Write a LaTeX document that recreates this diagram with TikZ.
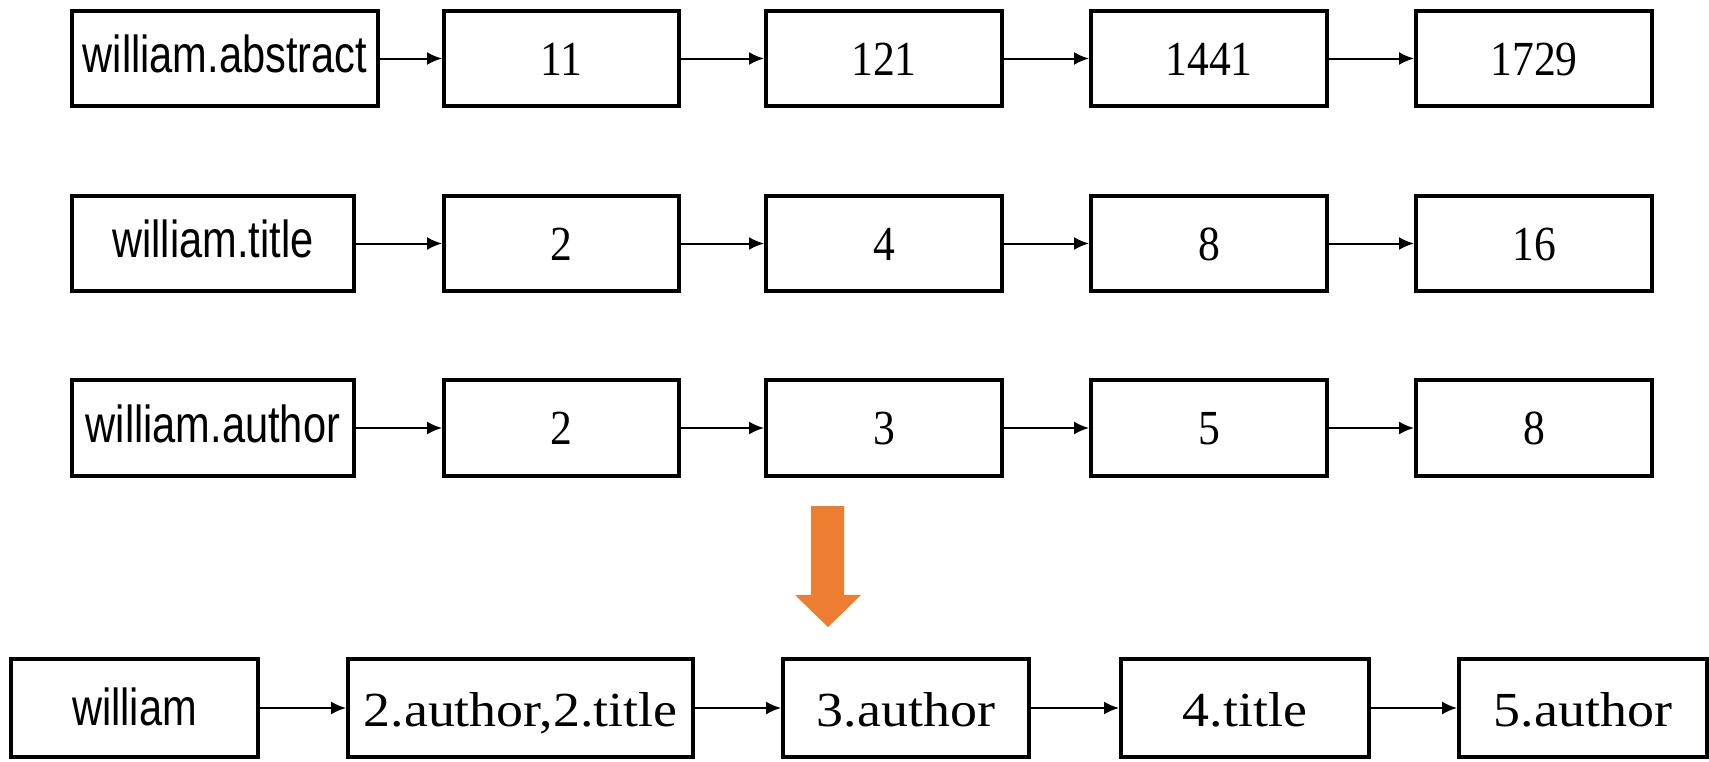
\documentclass[tikz,border=0pt]{standalone}
\usepackage{fontspec}
\usepackage{graphicx}
\newfontfamily\labelsans{Liberation Sans}
\newfontfamily\labelserif{Liberation Serif}
\usetikzlibrary{arrows.meta}
\definecolor{flowOrange}{HTML}{ED7D31}
\newcommand{\keytext}[1]{{\labelsans\fontsize{52}{60}\selectfont\scalebox{0.8}[1]{#1}}}
\newcommand{\numtext}[1]{{\labelserif\fontsize{49}{58}\selectfont\scalebox{0.89}[1]{#1}}}
\newcommand{\postext}[1]{{\labelserif\fontsize{49}{58}\selectfont\scalebox{1.1}[1]{#1}}}
\begin{document}
\begin{tikzpicture}[x=1pt,y=-1pt,
  cell/.style={draw=black, line width=4pt, rectangle, inner sep=0pt, fill=white},
  keycell/.style={cell, text height=37pt, text depth=9pt},
  numcell/.style={cell, text height=33pt, text depth=0pt},
  poscell/.style={cell, text height=36pt, text depth=0pt},
  link/.style={-{Latex[length=15pt,width=13pt]}, line width=2pt}]
\useasboundingbox (0,0) rectangle (1709,761);
\fill[white] (0,0) rectangle (1709,761);

% row 1: abstract postings
\node[keycell, minimum width=306pt, minimum height=95pt] (a0) at (225,58.5) {\keytext{william.abstract}};
\node[numcell, minimum width=235pt, minimum height=95pt] (a1) at (561.5,58.5) {\numtext{11}};
\node[numcell, minimum width=236pt, minimum height=95pt] (a2) at (884,58.5) {\numtext{121}};
\node[numcell, minimum width=236pt, minimum height=95pt] (a3) at (1209,58.5) {\numtext{1441}};
\node[numcell, minimum width=236pt, minimum height=95pt] (a4) at (1534,58.5) {\numtext{1729}};

% row 2: title postings
\node[keycell, minimum width=282pt, minimum height=95pt] (t0) at (213,243.5) {\keytext{william.title}};
\node[numcell, minimum width=235pt, minimum height=95pt] (t1) at (561.5,243.5) {\numtext{2}};
\node[numcell, minimum width=236pt, minimum height=95pt] (t2) at (884,243.5) {\numtext{4}};
\node[numcell, minimum width=236pt, minimum height=95pt] (t3) at (1209,243.5) {\numtext{8}};
\node[numcell, minimum width=236pt, minimum height=95pt] (t4) at (1534,243.5) {\numtext{16}};

% row 3: author postings
\node[keycell, minimum width=282pt, minimum height=96pt] (u0) at (213,428) {\keytext{william.author}};
\node[numcell, minimum width=235pt, minimum height=96pt] (u1) at (561.5,428) {\numtext{2}};
\node[numcell, minimum width=236pt, minimum height=96pt] (u2) at (884,428) {\numtext{3}};
\node[numcell, minimum width=236pt, minimum height=96pt] (u3) at (1209,428) {\numtext{5}};
\node[numcell, minimum width=236pt, minimum height=96pt] (u4) at (1534,428) {\numtext{8}};

\foreach \r in {a,t,u}{
  \draw[link] (\r0.east) -- (\r1.west);
  \draw[link] (\r1.east) -- (\r2.west);
  \draw[link] (\r2.east) -- (\r3.west);
  \draw[link] (\r3.east) -- (\r4.west);
}

% merge arrow
\fill[flowOrange] (811,506) -- (844,506) -- (844,595) -- (861,595) -- (828,627) -- (795,595) -- (811,595) -- cycle;

% row 4: merged list
\node[keycell, text depth=3pt, minimum width=247pt, minimum height=98pt] (m0) at (134.5,708) {\keytext{william}};
\node[poscell, minimum width=345pt, minimum height=98pt] (m1) at (520.5,708) {\postext{2.author,2.title}};
\node[poscell, minimum width=246pt, minimum height=98pt] (m2) at (906,708) {\postext{3.author}};
\node[poscell, minimum width=248pt, minimum height=98pt] (m3) at (1245,708) {\postext{4.title}};
\node[poscell, minimum width=248pt, minimum height=98pt] (m4) at (1583,708) {\postext{5.author}};

\draw[link] (m0.east) -- (m1.west);
\draw[link] (m1.east) -- (m2.west);
\draw[link] (m2.east) -- (m3.west);
\draw[link] (m3.east) -- (m4.west);
\end{tikzpicture}
\end{document}
